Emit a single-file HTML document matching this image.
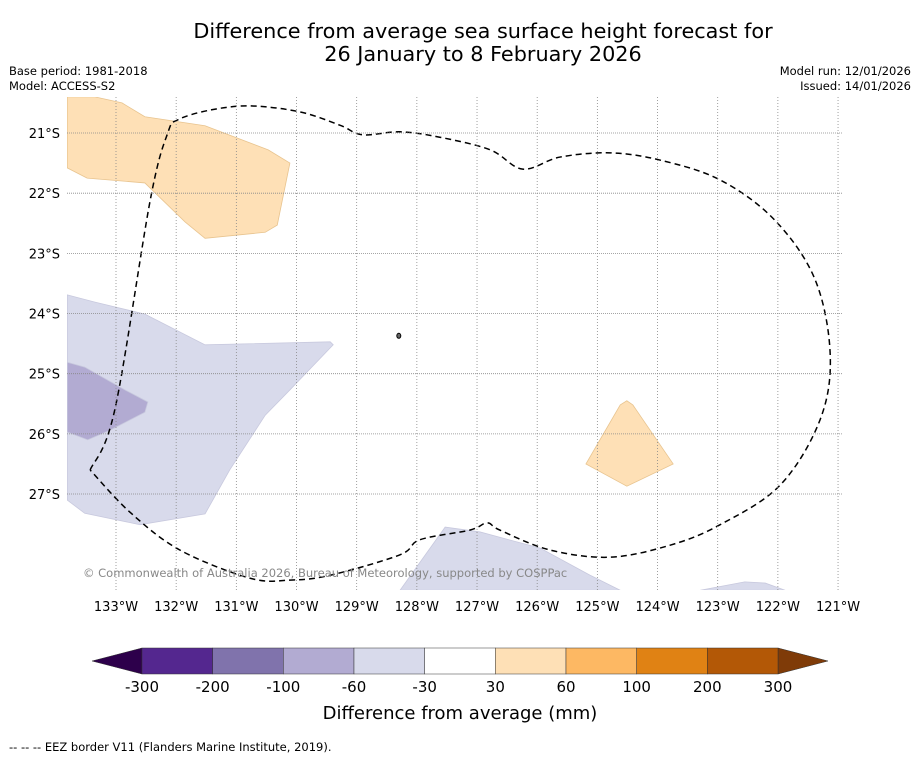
<!DOCTYPE html>
<html><head><meta charset="utf-8"><style>
body{margin:0;background:#fff;font-family:"Liberation Sans","DejaVu Sans",sans-serif;}
</style></head><body>
<svg width="919" height="758" xmlns="http://www.w3.org/2000/svg" font-family="DejaVu Sans, Liberation Sans, sans-serif">
<rect width="919" height="758" fill="#fff"/>
<text x="483" y="38" text-anchor="middle" font-size="20.8">Difference from average sea surface height forecast for</text>
<text x="483" y="61" text-anchor="middle" font-size="20.8">26 January to 8 February 2026</text>
<text x="9" y="75" font-size="11.5">Base period: 1981-2018</text>
<text x="9" y="90" font-size="11.5">Model: ACCESS-S2</text>
<text x="911" y="75" font-size="11.5" text-anchor="end">Model run: 12/01/2026</text>
<text x="911" y="90" font-size="11.5" text-anchor="end">Issued: 14/01/2026</text>
<g id="map"></g>
<g id="cbar"></g>
<text x="460" y="719" text-anchor="middle" font-size="18">Difference from average (mm)</text>
<text x="9" y="751" font-size="11.5">--  --  -- EEZ border V11 (Flanders Marine Institute, 2019).</text>
</svg>
<script>
const lonTicks=[133,132,131,130,129,128,127,126,125,124,123,122,121];
const latTicks=[21,22,23,24,25,26,27];
const orangeTop=[[133.81,20.40],[133.35,20.40],[132.90,20.50],[132.52,20.73],[131.52,20.88],[130.47,21.28],[130.11,21.50],[130.32,22.53],[130.52,22.65],[131.52,22.75],[131.85,22.48],[132.52,21.83],[133.48,21.75],[133.81,21.58]];
const purpleLight=[[133.81,23.69],[133.35,23.81],[132.52,24.01],[131.52,24.52],[129.44,24.47],[129.39,24.52],[130.11,25.27],[130.52,25.69],[131.11,26.60],[131.52,27.33],[132.60,27.51],[133.52,27.32],[133.81,27.10]];
const purpleMid=[[133.81,24.81],[133.52,24.89],[132.85,25.27],[132.47,25.47],[132.52,25.64],[133.10,25.94],[133.47,26.10],[133.81,25.97]];
const orangeRight=[[125.19,26.50],[124.62,25.52],[124.51,25.45],[124.41,25.52],[123.74,26.50],[124.51,26.87]];
const purpleBottom=[[128.28,28.60],[127.53,27.55],[126.95,27.63],[125.95,27.90],[125.12,28.35],[124.62,28.60]];
const purpleBR=[[123.29,28.60],[122.55,28.46],[122.21,28.48],[121.88,28.60]];
const eez=[[133.43,26.60],[133.02,25.60],[132.43,22.11],[132.14,21.00],[131.97,20.78],[131.44,20.62],[130.77,20.55],[129.94,20.65],[129.28,20.87],[128.90,21.03],[128.28,20.98],[127.62,21.07],[126.78,21.28],[126.24,21.60],[125.62,21.40],[124.79,21.33],[123.96,21.45],[122.96,21.78],[122.05,22.45],[121.38,23.44],[121.13,24.69],[121.30,25.77],[121.96,26.85],[122.96,27.51],[123.79,27.85],[124.79,28.05],[125.79,27.93],[126.62,27.60],[126.83,27.48],[127.12,27.60],[127.95,27.76],[128.28,28.01],[129.44,28.35],[130.11,28.43],[130.77,28.40],[131.94,27.93],[132.77,27.30],[133.43,26.60]];
const cbarLabels=["-300","-200","-100","-60","-30","30","60","100","200","300"];
const cbarColors=["#54278f","#8073ac","#b2abd2","#d8daeb","#ffffff","#fee0b6","#fdb863","#e08214","#b35806"];
const NS="http://www.w3.org/2000/svg";
const X=lon=>116+(133-lon)*60.17, Y=lat=>133+(lat-21)*60.17;
const map=document.getElementById('map');
function mk(tag,attrs,parent){const e=document.createElementNS(NS,tag);for(const k in attrs)e.setAttribute(k,attrs[k]);parent.appendChild(e);return e;}
const defs=mk('defs',{},map);const cp=mk('clipPath',{id:'clip'},defs);mk('rect',{x:67,y:97,width:776,height:493},cp);
const g=mk('g',{'clip-path':'url(#clip)'},map);
function poly(pts,fill,name){const p=mk('polygon',{points:pts.map(d=>X(d[0])+','+Y(d[1])).join(' '),fill:fill,stroke:fill==='#fee0b6'?'#e8c48f':'#c8c9de','stroke-width':0.8},g);

}
poly(orangeTop,'#fee0b6','anomaly-positive-northwest');
poly(purpleLight,'#d8daeb','anomaly-negative-west');
poly(purpleMid,'#b2abd2','anomaly-strong-negative-west');
poly(orangeRight,'#fee0b6','anomaly-positive-east');
poly(purpleBottom,'#d8daeb','anomaly-negative-south');
poly(purpleBR,'#d8daeb','anomaly-negative-southeast');
lonTicks.forEach(l=>{const x=X(l);const ln=mk('line',{x1:x,x2:x,y1:97,y2:590,stroke:'#888','stroke-width':0.8,'stroke-dasharray':'1,2'},map);


const t=mk('text',{x:x,y:611,'text-anchor':'middle','font-size':13},map);t.textContent=l+'°W';

});
latTicks.forEach(l=>{const y=Y(l);const ln=mk('line',{x1:67,x2:843,y1:y,y2:y,stroke:'#888','stroke-width':0.8,'stroke-dasharray':'1,1'},map);


const t=mk('text',{x:60,y:y+5,'text-anchor':'end','font-size':13},map);t.textContent=l+'°S';

});
// smooth Catmull-Rom path for EEZ
const P=eez.map(d=>[X(d[0]),Y(d[1])]);
let dstr='M'+P[0][0]+','+P[0][1];
for(let i=0;i<P.length-1;i++){const p0=P[Math.max(i-1,0)],p1=P[i],p2=P[i+1],p3=P[Math.min(i+2,P.length-1)];
const c1=[p1[0]+(p2[0]-p0[0])/6,p1[1]+(p2[1]-p0[1])/6],c2=[p2[0]-(p3[0]-p1[0])/6,p2[1]-(p3[1]-p1[1])/6];
dstr+=` C${c1[0]},${c1[1]} ${c2[0]},${c2[1]} ${p2[0]},${p2[1]}`;}
const e=mk('path',{d:dstr,fill:'none',stroke:'#000','stroke-width':1.5,'stroke-dasharray':'6,4'},g);


const isl=mk('ellipse',{cx:X(128.3),cy:Y(24.37),rx:2,ry:2.5,fill:'#666',stroke:'#000'},g);


const cr=mk('text',{x:83,y:577,'font-size':11.5,fill:'#888'},map);cr.textContent='© Commonwealth of Australia 2026, Bureau of Meteorology, supported by COSPPac';


const cb=document.getElementById('cbar');const x0=142,x1=778,w=(x1-x0)/cbarColors.length,lw=(x1-x0)/(cbarLabels.length-1);
mk('polygon',{points:`92,661 ${x0},648 ${x0},674`,fill:'#2d004b',stroke:'#333','stroke-width':0.5},cb);
mk('polygon',{points:`828,661 ${x1},648 ${x1},674`,fill:'#7f3b08',stroke:'#333','stroke-width':0.5},cb);
cbarColors.forEach((c,i)=>{const r=mk('rect',{x:x0+i*w,y:648,width:w,height:26,fill:c,stroke:'#333','stroke-width':0.5},cb);

});
cbarLabels.forEach((s,i)=>{const t=mk('text',{x:x0+i*lw,y:692,'text-anchor':'middle','font-size':15},cb);t.textContent=s;

});
</script>
</body></html>
